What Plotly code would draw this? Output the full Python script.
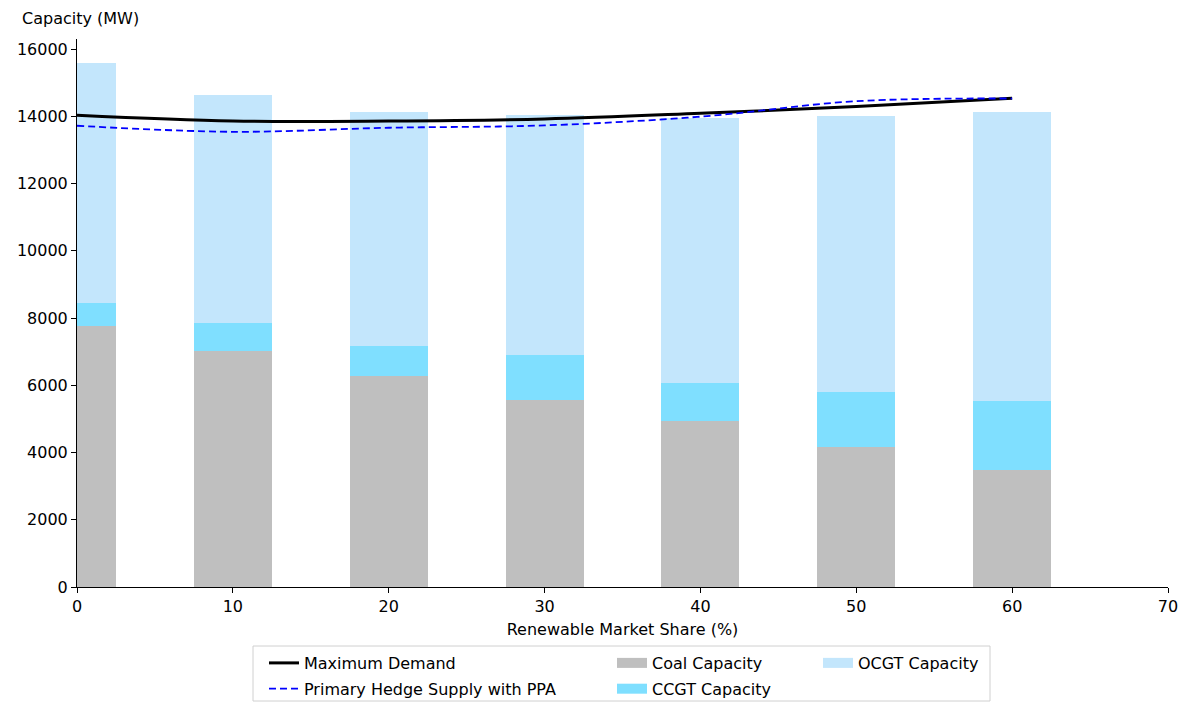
import plotly.graph_objects as go

share = [0, 10, 20, 30, 40, 50, 60]
coal = [7750, 7030, 6290, 5570, 4940, 4170, 3480]
ccgt = [700, 830, 880, 1320, 1130, 1630, 2060]
ocgt = [7130, 6770, 6970, 7150, 7890, 8220, 8600]
max_demand = [14030, 13860, 13860, 13920, 14090, 14290, 14540]
hedge_ppa = [13720, 13540, 13660, 13730, 13990, 14450, 14530]
x_ticks = [0, 10, 20, 30, 40, 50, 60, 70]
y_ticks = [0, 2000, 4000, 6000, 8000, 10000, 12000, 14000, 16000]

FONT = "DejaVu Sans"
FS = 16
COAL_C = "rgba(128,128,128,0.5)"
CCGT_C = "rgba(0,191,255,0.5)"
OCGT_C = "rgba(135,206,250,0.5)"

fig = go.Figure()

fig.add_trace(go.Bar(x=share, y=coal, width=5, name="Coal Capacity", showlegend=False,
                     marker=dict(color=COAL_C, line=dict(width=0))))
fig.add_trace(go.Bar(x=share, y=ccgt, width=5, name="CCGT Capacity", showlegend=False,
                     marker=dict(color=CCGT_C, line=dict(width=0))))
fig.add_trace(go.Bar(x=share, y=ocgt, width=5, name="OCGT Capacity", showlegend=False,
                     marker=dict(color=OCGT_C, line=dict(width=0))))
fig.add_trace(go.Scatter(x=share, y=max_demand, mode="lines", name="Maximum Demand",
                         line=dict(color="black", width=3, shape="spline"),
                         legend="legend", legendgroup="a", legendrank=1))
fig.add_trace(go.Scatter(x=share, y=hedge_ppa, mode="lines", name="Primary Hedge Supply with PPA",
                         line=dict(color="blue", width=1.8, dash="7px,4px", shape="spline"),
                         legend="legend", legendgroup="b", legendrank=2))

# legend-only patch entries (matplotlib-style wide rectangles)
for name, col, leg, grp, rank in [("Coal Capacity", COAL_C, "legend2", "c", 1),
                                  ("CCGT Capacity", CCGT_C, "legend2", "d", 2),
                                  ("OCGT Capacity", OCGT_C, "legend3", "e", 1)]:
    fig.add_trace(go.Scatter(x=[None], y=[None], mode="lines", name=name,
                             line=dict(color=col, width=10),
                             legend=leg, legendgroup=grp, legendrank=rank))

W, H = 1185, 702
ml, mr, mt, mb = 77, 17, 39, 115
pw, ph = W - ml - mr, H - mt - mb

def px2x(px):
    return (px - ml) / pw

def py2y(py):
    return (H - mb - py) / ph

leg_common = dict(bgcolor="rgba(0,0,0,0)", borderwidth=0, orientation="v",
                  yanchor="top", xanchor="left", font=dict(family=FONT, size=FS, color="black"),
                  traceorder="grouped", tracegroupgap=2, itemwidth=30)

fig.update_layout(
    width=W, height=H,
    margin=dict(l=ml, r=mr, t=mt, b=mb, autoexpand=False),
    paper_bgcolor="white", plot_bgcolor="white",
    barmode="stack", bargap=0,
    font=dict(family=FONT, size=FS, color="black"),
    legend=dict(x=px2x(264), y=py2y(646), **leg_common),
    legend2=dict(x=px2x(612), y=py2y(646), **leg_common),
    legend3=dict(x=px2x(818), y=py2y(646), **leg_common),
    xaxis=dict(range=[0, 70], tickmode="array", tickvals=x_ticks,
               ticktext=[str(v) for v in x_ticks],
               ticks="outside", ticklen=5, tickcolor="black", showline=True, linecolor="black",
               linewidth=1, showgrid=False, zeroline=False,
               tickfont=dict(family=FONT, size=FS),
               title=dict(text="Renewable Market Share (%)", standoff=8,
                          font=dict(family=FONT, size=FS))),
    yaxis=dict(range=[0, 16300], tickmode="array", tickvals=y_ticks,
               ticktext=[str(v) for v in y_ticks],
               ticks="outside", ticklen=5, tickcolor="black", showline=True, linecolor="black",
               linewidth=1, showgrid=False, zeroline=False,
               tickfont=dict(family=FONT, size=FS)),
    annotations=[dict(text="Capacity (MW)", xref="paper", yref="paper",
                      x=px2x(20), y=py2y(18), xanchor="left", yanchor="middle",
                      showarrow=False, font=dict(family=FONT, size=FS, color="black"))],
    shapes=[dict(type="rect", xref="paper", yref="paper",
                 x0=px2x(253), x1=px2x(990), y0=py2y(701), y1=py2y(646),
                 line=dict(color="#d0d0d0", width=1), fillcolor="rgba(255,255,255,0)")],
)

fig.write_html("out.html")
